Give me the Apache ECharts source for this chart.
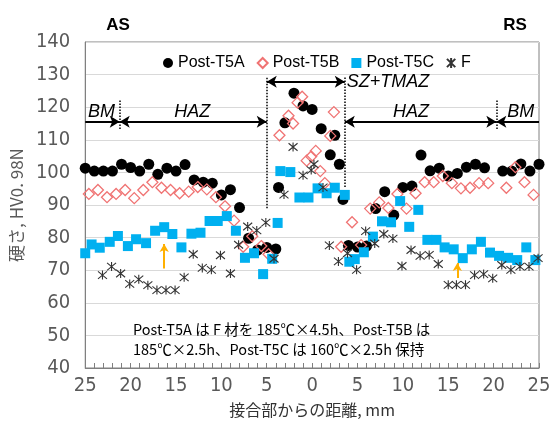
<!DOCTYPE html>
<html><head><meta charset="utf-8">
<script src="https://cdn.jsdelivr.net/npm/echarts@6/dist/echarts.min.js"></script>
<style>html,body{margin:0;padding:0;background:#fff}#c{width:557px;height:432px}</style>
</head><body><div id="c"></div>
<script>
// ---- data (distance mm: negative = AS side, positive = RS side) ----
const t5aX = [-25,-24,-23,-22,-21,-20,-19,-18,-17,-16,-15,-14,-13,-12,-11,-10,-9,-8,-7,-6,-5,-4,
  -3.7,-3,-2,-1,0,1,2,2.5,3,3.4,
  4,5,6,7,8,9,10,11,12,13,14,15,16,17,18,19,21,22,23,24,25];
const t5aY = [101.3,100.4,100.4,100.4,102.5,101.5,100.4,102.5,99.4,101.3,100.4,102.4,97.7,97,96.7,93.1,94.7,89.2,79.8,76.2,77,76.5,
  95.4,115.2,124.3,120.4,119.3,113.4,105.4,111.4,102.5,91.7,
  77.6,77.1,77.4,88.9,94.1,86.9,95.4,95.8,105.3,100.5,101.3,98.9,99.7,101.6,102.5,101.4,100.4,100.4,102.6,100.4,102.5];

const t5bX = [-24.6,-23.6,-22.6,-21.6,-20.6,-19.6,-18.6,-17.6,-16.6,-15.6,-14.6,-13.6,-12.6,-11.6,-10.6,-9.6,-8.6,-7.6,-6.6,-5.6,-4.8,
  -3.6,-2.6,-2.1,-1.6,-1.1,-0.6,-0.1,0.4,0.9,1.4,2.0,2.4,
  3.2,4.4,5.4,6.4,7.4,8.4,9.4,10.4,11.4,12.4,13.4,14.4,15.4,16.4,17.4,18.4,19.4,21.4,22.4,23.4,24.4];
const t5bY = [93.4,94.6,92.4,93.4,94.6,92.1,94.6,97.0,95.3,94.6,93.6,94.1,95.5,94.8,92.4,89.6,85.2,77.2,80.4,77.4,74.9,
  111.4,117.4,115.0,121.4,123.2,103.6,104.9,106.6,100.4,96.7,111.2,118.5,
  77.2,84.7,77.7,88.9,90.8,89.1,93.4,88.9,93.6,97.0,97.0,98.9,96.7,95.1,95.3,96.7,96.7,95.3,101.6,97.0,93.1];

const t5cX = [-25,-24.3,-23.4,-22.3,-21.4,-20.3,-19.4,-18.3,-17.3,-16.3,-15.4,-14.4,-13.3,-12.3,-11.3,-10.4,-9.4,-8.4,-7.4,-6.4,-5.4,-4.4,
  -3.8,-3.5,-2.4,-1.4,-0.4,0.6,1.6,2.5,3.6,
  4.1,4.7,5.7,6.7,7.7,8.7,9.7,10.7,11.7,12.7,13.7,14.6,15.6,16.6,17.6,18.6,19.6,20.6,21.6,22.6,23.6,24.6];
const t5cY = [75.2,77.9,76.9,78.7,80.5,77.4,79.5,78.3,82.1,83.2,81.1,77.0,81.2,81.5,85.1,85.1,86.6,82.1,73.8,75.2,68.8,73.5,
  84.5,100.4,100.1,92.3,92.3,95.1,93.6,95.3,93.1,
  72.6,73.4,75.5,80.3,85.0,84.7,91.2,83.3,88.5,79.3,79.3,77.0,76.4,73.7,76.4,78.7,75.4,74.4,73.8,73.1,77.0,73.1];

const fX = [-23.1,-22.1,-21.1,-20.1,-19.1,-18.1,-17.1,-16.1,-15.1,-14.1,-13.1,-12.1,-11.1,-10.1,-9,-8.1,-7.1,-6.1,-5.1,-4.2,
  -3.1,-2.1,-1.0,-0.1,0.2,1.2,
  1.9,2.9,3.9,4.9,5.9,6.9,7.9,8.9,9.9,10.9,11.9,12.9,13.9,15.0,15.9,16.9,17.9,18.9,19.9,20.9,21.9,22.9,23.9,24.9];
const fY = [68.5,71.1,69.0,65.8,67.2,65.4,63.9,63.9,63.9,67.8,74.9,70.7,70.1,74.6,69.0,77.8,83.4,82.2,84.6,73.5,
  93.2,107.8,99.1,100.7,102.5,95.4,
  77.6,72.7,75.2,70.1,82.0,78.2,81.1,79.7,71.3,76.2,74.4,74.7,71.9,65.5,65.5,65.5,68.5,68.8,67.5,71.6,70.1,71.1,71.1,73.7];

const seriesNames = ['Post-T5A','Post-T5B','Post-T5C','F'];
const xTicks = [-25,-20,-15,-10,-5,0,5,10,15,20,25];
const yTicks = [40,50,60,70,80,90,100,110,120,130,140];

// zone boundaries (mm) and annotation levels (HV)
const zoneX = [-21.2, -5, 3.6, 20.3];
const arrowLevel = 115.5;
const szLevel = 127.8;
const orangeArrows = [[-16.3, 70.5, 78.0], [16.0, 67.6, 72.2]];

const pair = (xs, ys) => xs.map((x, i) => [x, ys[i]]);
const narrow = '"Liberation Sans Narrow","DejaVu Sans Condensed","Arial Narrow",sans-serif';
const jp = '"Noto Sans CJK JP","Noto Sans",sans-serif';
const ital = {fontStyle:'italic', fontSize:18, fontFamily:'"Liberation Sans",Arial,sans-serif', color:'#000'};

const ptText = (x, y, text, pos) => ({
  coord:[x, y], symbol:'rect', symbolSize:1, itemStyle:{color:'rgba(0,0,0,0)'},
  label:{show:true, position:pos || 'inside', distance:0, formatter:text, ...ital}
});
const arrowLine = (x1, x2, y, s1, s2) => [
  {coord:[x1, y], symbol:s1}, {coord:[x2, y], symbol:s2}
];
const dotLine = (x, y1, y2) => [
  {coord:[x, y1], symbol:'none', lineStyle:{type:'dotted', width:1.5, color:'#000'}},
  {coord:[x, y2], symbol:'none'}
];

const chart = echarts.init(document.getElementById('c'), null, {renderer:'canvas'});
const asterisk = 'path://M0,0L10,10M10,0L0,10M5,-1L5,11';

chart.setOption({
  animation:false,
  backgroundColor:'#fff',
  title:[
    {text:'AS', left:113, top:12, textAlign:'center', textStyle:{fontSize:17, fontWeight:'bold', color:'#000', fontFamily:'"Liberation Sans",Arial,sans-serif'}},
    {text:'RS', left:510, top:12, textAlign:'center', textStyle:{fontSize:17, fontWeight:'bold', color:'#000', fontFamily:'"Liberation Sans",Arial,sans-serif'}},
    {text:'Post-T5A は F 材を 185℃×4.5h、Post-T5B は\n185℃×2.5h、Post-T5C は 160℃×2.5h 保持', left:128, top:314,
     textStyle:{fontSize:14.5, fontWeight:'normal', color:'#000', fontFamily:jp, lineHeight:20}}
  ],
  legend:{
    data:seriesNames, top:50, left:158, itemWidth:10, itemHeight:10, itemGap:12,
    textStyle:{fontSize:16, color:'#000', fontFamily:'"Liberation Sans",Arial,sans-serif'}
  },
  grid:{left:82, right:18, top:42, bottom:64, show:true, borderColor:'#808080', borderWidth:1, backgroundColor:'transparent'},
  xAxis:{
    type:'value', min:-25, max:25, interval:1,
    name:'接合部からの距離, mm', nameLocation:'middle', nameGap:34,
    nameTextStyle:{fontSize:16, color:'#333', fontFamily:jp},
    axisLine:{show:true, onZero:false, lineStyle:{color:'#808080'}},
    axisTick:{show:true, inside:true, length:5, lineStyle:{color:'#808080'}},
    splitLine:{show:false},
    axisLabel:{fontSize:20, color:'#595959', fontFamily:narrow, margin:8,
      formatter:v => (xTicks.indexOf(v) >= 0 ? String(Math.abs(v)) : '')}
  },
  yAxis:{
    type:'value', min:40, max:140, interval:10,
    name:'硬さ, HV0. 98N', nameLocation:'middle', nameGap:60, nameRotate:90,
    nameTextStyle:{fontSize:17, color:'#595959', fontFamily:jp},
    axisLine:{show:true, onZero:false, lineStyle:{color:'#808080'}},
    axisTick:{show:false},
    splitLine:{show:true, lineStyle:{color:'#d9d9d9', width:1}},
    axisLabel:{fontSize:20, color:'#595959', fontFamily:narrow, margin:15,
      formatter:v => (yTicks.indexOf(v) >= 0 ? String(v) : '')}
  },
  series:[
    {name:'Post-T5A', type:'scatter', data:pair(t5aX, t5aY), symbol:'circle', symbolSize:11,
     itemStyle:{color:'#000', opacity:1}},
    {name:'Post-T5B', type:'scatter', data:pair(t5bX, t5bY), symbol:'diamond', symbolSize:11,
     itemStyle:{color:'rgba(255,255,255,0)', borderColor:'#f07373', borderWidth:1.3, opacity:1}},
    {name:'Post-T5C', type:'scatter', data:pair(t5cX, t5cY), symbol:'rect', symbolSize:10,
     itemStyle:{color:'#00b0f0', opacity:1}},
    {name:'F', type:'scatter', data:pair(fX, fY), symbol:asterisk, symbolSize:9,
     itemStyle:{color:'rgba(0,0,0,0)', borderColor:'#333', borderWidth:1.1, opacity:1}},
    {name:'zones', type:'scatter', data:[], silent:true,
     markLine:{
       silent:true, animation:false, symbolSize:[9,10],
       label:{show:false},
       lineStyle:{color:'#000', width:2, type:'solid'},
       data:[
         dotLine(zoneX[0], 113.3, 122.3),
         dotLine(zoneX[1], 89.0, 129.5),
         dotLine(zoneX[2], 95.5, 129.5),
         dotLine(zoneX[3], 113.3, 122.3),
         arrowLine(-25, zoneX[0], arrowLevel, 'none', 'arrow'),
         arrowLine(zoneX[0], zoneX[1], arrowLevel, 'arrow', 'arrow'),
         arrowLine(zoneX[1], zoneX[2], szLevel, 'arrow', 'arrow'),
         arrowLine(zoneX[2], zoneX[3], arrowLevel, 'arrow', 'arrow'),
         arrowLine(zoneX[3], 25, arrowLevel, 'arrow', 'none'),
         ...orangeArrows.map(a => [
           {coord:[a[0], a[1]], symbol:'none', lineStyle:{color:'#ffb000', width:2, type:'solid'}},
           {coord:[a[0], a[2]], symbol:'arrow', symbolSize:[7,8]}
         ])
       ]
     },
     markPoint:{
       silent:true, animation:false,
       data:[
         ptText(-23.2, 118.4, 'BM'),
         ptText(-13.2, 118.4, 'HAZ'),
         ptText(zoneX[2] + 0.15, szLevel, 'SZ+TMAZ', 'right'),
         ptText(10.9, 118.4, 'HAZ'),
         ptText(23.0, 118.4, 'BM')
       ]
     }
    }
  ]
});
</script></body></html>
